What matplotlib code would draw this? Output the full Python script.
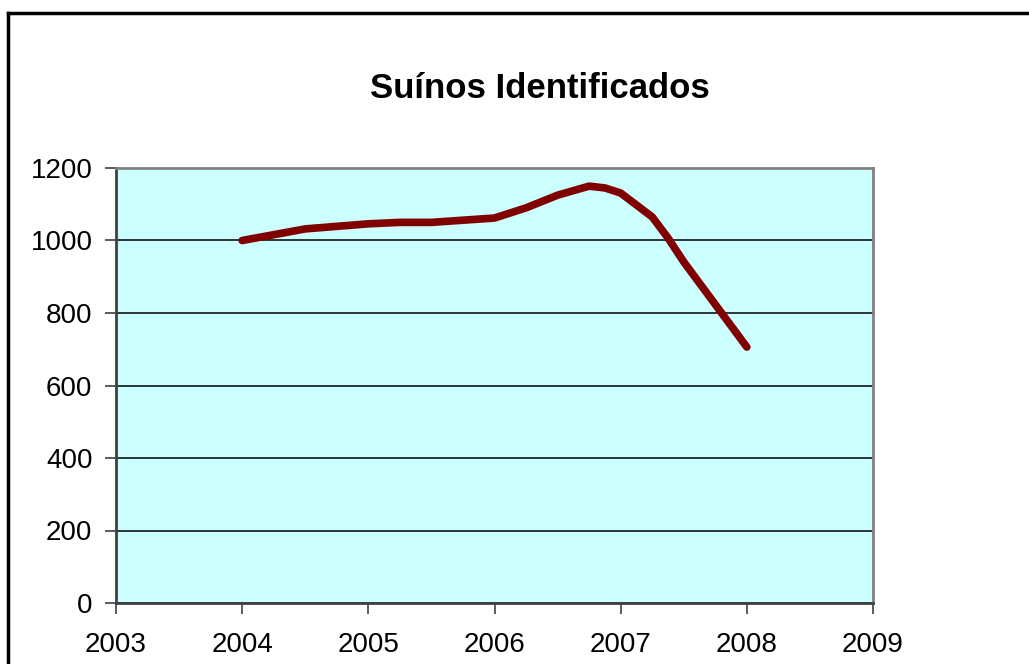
import matplotlib
matplotlib.use("Agg")
import matplotlib.pyplot as plt
from matplotlib.lines import Line2D

plt.rcParams['font.family'] = ['Liberation Sans', 'DejaVu Sans']

years = [2004.0, 2004.5, 2005.0, 2005.25, 2005.5, 2006.0, 2006.25, 2006.5,
         2006.75, 2006.875, 2007.0, 2007.25, 2007.375, 2007.5, 2008.0]
values = [1000, 1032, 1046, 1050, 1050, 1062, 1090, 1125,
          1150, 1145, 1131, 1065, 1007, 941, 706]
x_ticks = [2003, 2004, 2005, 2006, 2007, 2008, 2009]
y_ticks = [0, 200, 400, 600, 800, 1000, 1200]
title = "Suínos Identificados"

fig = plt.figure(figsize=(10.29, 6.64), dpi=100)
ax = fig.add_axes([116/1029, 61/664, 757/1029, 435/664])
ax.set_facecolor('#CCFFFF')

ax.plot(years, values, color='#800000', lw=5.5, solid_capstyle='round',
        solid_joinstyle='round', zorder=3)

ax.set_xlim(2003, 2009)
ax.set_ylim(0, 1200)
ax.set_xticks(x_ticks)
ax.set_yticks(y_ticks)
ax.set_xticklabels([str(t) for t in x_ticks])
ax.set_yticklabels([str(t) for t in y_ticks])
ax.tick_params(axis='both', labelsize=20, length=8, width=1.2, color='#404040')
ax.tick_params(axis='y', pad=9)
ax.tick_params(axis='x', pad=13)

ax.yaxis.grid(True, color='black', lw=1.1)
ax.set_axisbelow(True)

for side in ['top', 'right']:
    ax.spines[side].set_color('#808080')
    ax.spines[side].set_linewidth(2)
for side in ['left', 'bottom']:
    ax.spines[side].set_color('#404040')
    ax.spines[side].set_linewidth(2)

fig.text(540/1029, 1 - 89/664, title, ha='center', va='center',
         fontsize=25, fontweight='bold')

# figure border (extends past the bottom and right edges)
fig.add_artist(Line2D([8/1029, 8/1029], [-0.05, 1 - 13/664], color='black',
                      lw=2.5, transform=fig.transFigure))
fig.add_artist(Line2D([8/1029, 1.05], [1 - 13/664, 1 - 13/664], color='black',
                      lw=2.5, transform=fig.transFigure))

fig.savefig('out.png', dpi=100)
